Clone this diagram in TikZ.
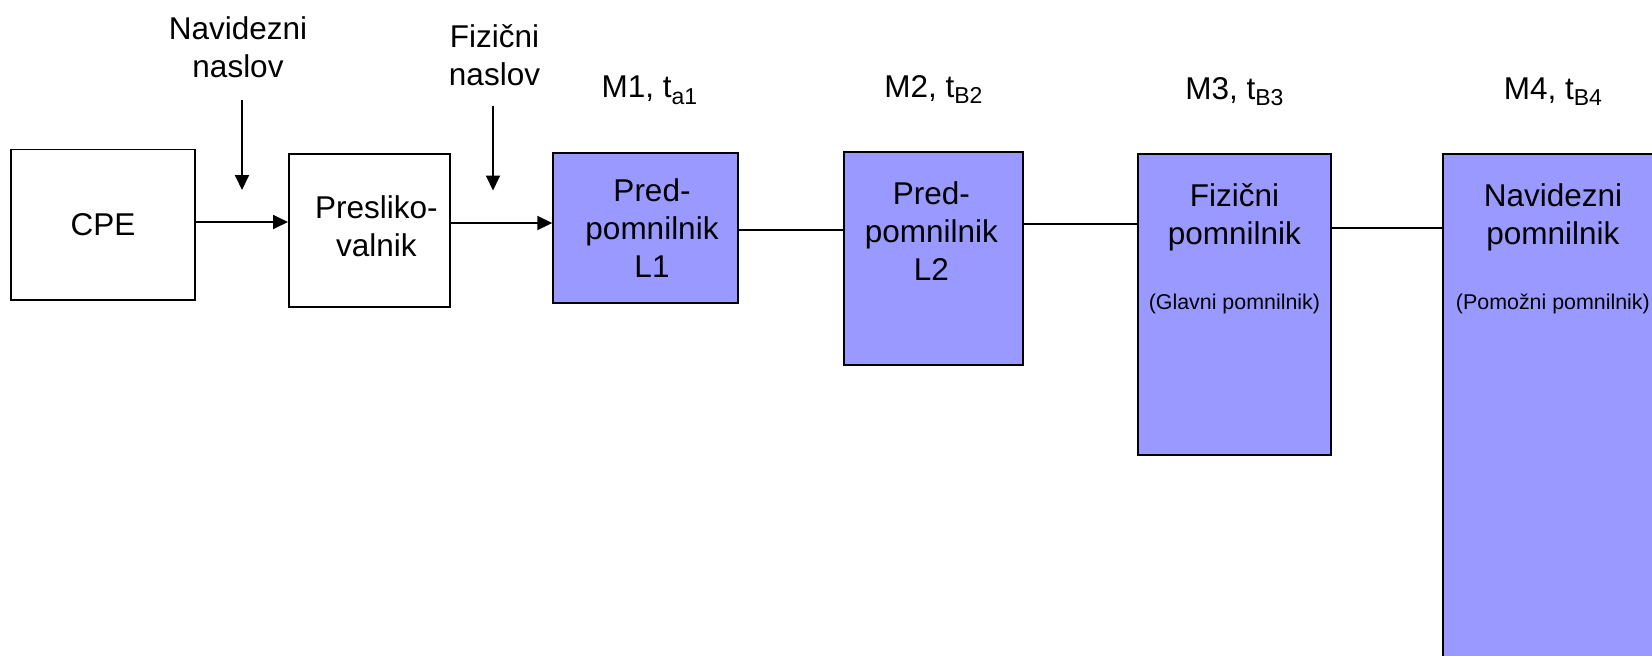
\documentclass[tikz,border=0pt]{standalone}
\usepackage{fontspec}
\setmainfont{Liberation Sans}
\usepackage{tikz}
\usetikzlibrary{arrows.meta,positioning}
\definecolor{memfill}{RGB}{153,153,255}
\newcommand{\memsub}[1]{\raisebox{-3.3pt}{\fontsize{11.5}{11.5}\selectfont #1}}

\begin{document}
\begin{tikzpicture}[
  x=0.5pt, y=-0.5pt,
  font=\fontsize{15.75}{19}\selectfont,
  block/.style={draw, line width=0.9pt, anchor=north west, inner sep=0pt},
  plainbox/.style={block, fill=white},
  membox/.style={block, fill=memfill},
  txt/.style={inner sep=0pt, align=center},
  note/.style={txt, font=\fontsize{10.7}{12}\selectfont},
  arr/.style={-{Triangle[length=7.5pt, width=7pt]}, line width=0.9pt},
  link/.style={line width=0.9pt}
]
\useasboundingbox (0,0) rectangle (1652,655);
% processor and address translation
\node[plainbox, minimum width=92pt, minimum height=75.25pt] (cpe) at (10,148.5) {CPE};
\node[plainbox, minimum width=80.5pt, minimum height=76.5pt] (pres) at (288,153) {};
\node[txt, below=21pt of pres.north, xshift=3.5pt] (prestxt) {Presliko-\\valnik};
\node[txt, anchor=north] (vlab) at (238,16) {Navidezni\\naslov};
\node[txt, anchor=north] (plab) at (494.5,24) {Fizični\\naslov};
\coordinate (vin) at (242,99.5);
\coordinate (vat) at (242,190);
\coordinate (pin) at (493,106);
\coordinate (pat) at (493,190.5);
\draw[arr] (vin) -- (vat);
\draw[arr] (pin) -- (pat);
% memory levels
\node[membox, minimum width=92.2pt, minimum height=75pt] (l1) at (552.3,151.7) {};
\node[membox, minimum width=89.5pt, minimum height=106.7pt] (l2) at (843,151) {};
\node[membox, minimum width=96.5pt, minimum height=150.5pt] (m3) at (1137,153) {};
\node[membox, minimum width=110pt, minimum height=273.5pt] (m4) at (1442,153) {};
\node[txt, below=13.2pt of l1.north, xshift=3.3pt] (l1txt) {Pred-\\pomnilnik\\L1};
\node[txt, below=15.2pt of l2.north, xshift=-1pt] (l2txt) {Pred-\\pomnilnik\\L2};
\node[txt, below=15.2pt of m3.north] (m3txt) {Fizični\\pomnilnik};
\node[txt, below=15.2pt of m4.north] (m4txt) {Navidezni\\pomnilnik};
\node[note, below=21.2pt of m3txt.south] (m3note) {(Glavni pomnilnik)};
\node[note, below=21.2pt of m4txt.south] (m4note) {(Pomožni pomnilnik)};
\node[above=20pt of l1.north, xshift=2pt] (l1lab) {M1, t\memsub{a1}};
\node[above=20pt of l2.north] (l2lab) {M2, t\memsub{B2}};
\node[above=20pt of m3.north] (m3lab) {M3, t\memsub{B3}};
\node[above=20pt of m4.north] (m4lab) {M4, t\memsub{B4}};
% connections
\draw[arr] (cpe.east |- 0,222) -- (pres.west |- 0,222);
\draw[arr] (pres.east |- 0,223) -- (l1.west |- 0,223);
\draw[link] (l1.east |- 0,230) -- (l2.west |- 0,230);
\draw[link] (l2.east |- 0,224) -- (m3.west |- 0,224);
\draw[link] (m3.east |- 0,228) -- (m4.west |- 0,228);
\end{tikzpicture}
\end{document}
